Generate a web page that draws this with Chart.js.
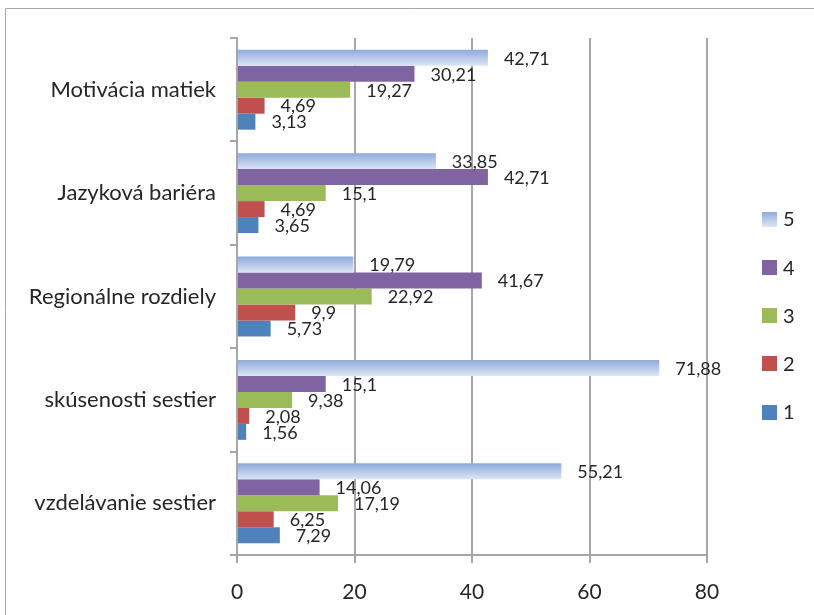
<!DOCTYPE html>
<html>
<head>
<meta charset="utf-8">
<script src="https://cdn.jsdelivr.net/npm/chart.js@4/dist/chart.umd.min.js"></script>
<style>
  html, body { margin: 0; padding: 0; background: #ffffff; }
  #wrap { width: 814px; height: 615px; position: relative; }
  canvas { display: block; }
</style>
</head>
<body>
<div id="wrap"><canvas id="c" width="814" height="615"></canvas></div>
<script>
// Categories, top to bottom
const categories = ['Motivácia matiek', 'Jazyková bariéra', 'Regionálne rozdiely', 'skúsenosti sestier', 'vzdelávanie sestier'];
// Series names (rating levels), listed in drawing order within each group
const seriesNames = ['5', '4', '3', '2', '1'];
// Percentages per rating level
const values5 = [42.71, 33.85, 19.79, 71.88, 55.21];
const values4 = [30.21, 42.71, 41.67, 15.1, 14.06];
const values3 = [19.27, 15.1, 22.92, 9.38, 17.19];
const values2 = [4.69, 4.69, 9.9, 2.08, 6.25];
const values1 = [3.13, 3.65, 5.73, 1.56, 7.29];
// Value axis ticks
const xTicks = [0, 20, 40, 60, 80];

const FONT = 'Lato, "Open Sans", sans-serif';
const TEXT = '#262626';
const GRID = '#a6a6a6';
const CAT_PCT = 0.773;

const seriesColors = {
  '4': '#8064a2',
  '3': '#9bbb59',
  '2': '#c0504d',
  '1': '#4f81bd'
};

// Vertical gradient fill for the top bar in each group (light blue series)
function lightBlueFill(c) {
  const chart = c.chart;
  const y = chart.scales.y;
  if (!y || c.dataIndex === undefined || !chart.chartArea) return '#b8cce4';
  const center = y.getPixelForValue(c.dataIndex);
  const cat = y.height / categories.length;
  const group = cat * CAT_PCT;
  const bar = group / seriesNames.length;
  const top = center - group / 2 + c.datasetIndex * bar;
  const g = chart.ctx.createLinearGradient(0, top, 0, top + bar);
  g.addColorStop(0, '#8eaadb');
  g.addColorStop(1, '#dbe5f4');
  return g;
}

const seriesValues = [values5, values4, values3, values2, values1];

const datasets = seriesNames.map((name, i) => ({
  label: name,
  data: seriesValues[i],
  backgroundColor: name === '5' ? lightBlueFill : seriesColors[name],
  borderWidth: 0,
  categoryPercentage: CAT_PCT,
  barPercentage: 1
}));

function fmt(v) { return String(v).replace('.', ','); }

// Value labels drawn just past each bar end
const valueLabels = {
  id: 'valueLabels',
  afterDatasetsDraw(chart) {
    const ctx = chart.ctx;
    ctx.save();
    ctx.font = '18px ' + FONT;
    ctx.fillStyle = TEXT;
    ctx.textAlign = 'left';
    ctx.textBaseline = 'middle';
    chart.data.datasets.forEach((ds, di) => {
      const meta = chart.getDatasetMeta(di);
      meta.data.forEach((el, i) => {
        ctx.fillText(fmt(ds.data[i]), el.x + 16, el.y + 1);
      });
    });
    ctx.restore();
  }
};

// Outer frame lines and the series legend on the right
const frameAndLegend = {
  id: 'frameAndLegend',
  beforeDraw(chart) {
    const ctx = chart.ctx;
    ctx.save();
    ctx.strokeStyle = '#a6a6a6';
    ctx.lineWidth = 1;
    ctx.beginPath();
    ctx.moveTo(5.5, 615);
    ctx.lineTo(5.5, 8.5);
    ctx.lineTo(814, 8.5);
    ctx.stroke();
    ctx.restore();
  },
  afterDraw(chart) {
    const ctx = chart.ctx;
    ctx.save();
    const x0 = 762, size = 15, top = 219, step = 48.25;
    ctx.font = '20px ' + FONT;
    ctx.fillStyle = TEXT;
    ctx.textBaseline = 'middle';
    ctx.textAlign = 'left';
    seriesNames.forEach((name, i) => {
      const cy = top + i * step;
      const y = cy - size / 2;
      if (name === '5') {
        const g = ctx.createLinearGradient(0, y, 0, y + size);
        g.addColorStop(0, '#8eaadb');
        g.addColorStop(1, '#dbe5f4');
        ctx.fillStyle = g;
      } else {
        ctx.fillStyle = seriesColors[name];
      }
      ctx.fillRect(x0, Math.round(y), size, size);
      ctx.fillStyle = TEXT;
      ctx.fillText(name, x0 + 21, cy + 1);
    });
    ctx.restore();
  }
};

new Chart(document.getElementById('c'), {
  type: 'bar',
  data: { labels: categories, datasets },
  options: {
    indexAxis: 'y',
    responsive: false,
    animation: false,
    devicePixelRatio: 1,
    layout: { padding: { top: 38, right: 107, left: 0, bottom: 0 } },
    scales: {
      x: {
        min: 0,
        max: 80,
        afterBuildTicks(s) { s.ticks = xTicks.map(v => ({ value: v })); },
        afterFit(s) { s.height = 60; },
        grid: { color: GRID, lineWidth: 2, tickLength: 8, drawTicks: true },
        border: { color: GRID, width: 2 },
        ticks: { font: { family: FONT, size: 21 }, color: TEXT, padding: 17 }
      },
      y: {
        afterFit(s) { s.width = 237; },
        grid: { drawOnChartArea: false, color: GRID, lineWidth: 2, tickLength: 7, offset: true },
        border: { color: GRID, width: 2 },
        ticks: { font: { family: FONT, size: 22 }, color: TEXT, padding: 14 }
      }
    },
    plugins: {
      legend: { display: false },
      tooltip: { enabled: false }
    }
  },
  plugins: [frameAndLegend, valueLabels]
});
</script>
</body>
</html>
